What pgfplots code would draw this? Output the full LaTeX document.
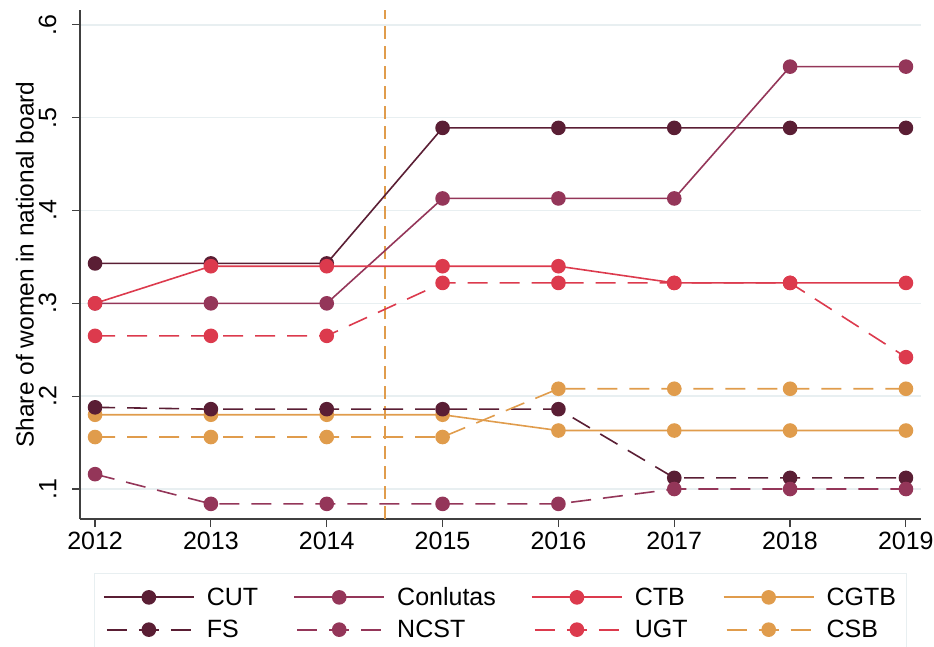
\documentclass[border=0pt]{standalone}
\usepackage{fontspec}
\setmainfont{Liberation Sans}
\usepackage{pgfplots}
\pgfplotsset{compat=1.18}
\definecolor{cCUT}{HTML}{5A1E34}
\definecolor{cCON}{HTML}{943659}
\definecolor{cCTB}{HTML}{DC3A4D}
\definecolor{cCGT}{HTML}{E09C4C}
\definecolor{cgrid}{HTML}{E8EFF1}
\begin{document}
\begin{tikzpicture}
\path[use as bounding box] (-80pt,-127pt) rectangle (854pt,519pt);
\begin{axis}[
  scale only axis, width=841pt, height=509pt,
  xmin=2011.87, xmax=2019.13, ymin=0.0677, ymax=0.616,
  axis x line*=bottom, axis y line*=left,
  axis line style={line width=1.2pt, black!75},
  xtick={2012,...,2019},
  xticklabels={2012,2013,2014,2015,2016,2017,2018,2019},
  ytick={0.1,0.2,0.3,0.4,0.5,0.6},
  yticklabels={.1,.2,.3,.4,.5,.6},
  tick style={line width=1.2pt, black!75},
  tick align=outside, major tick length=8pt,
  ymajorgrids, grid style={line width=1.5pt, cgrid},
  tick label style={font=\fontsize{25}{30}\selectfont},
  yticklabel style={rotate=90, anchor=south, yshift=12pt},
  xticklabel style={yshift=-2pt},
  ylabel={Share of women in national board},
  ylabel style={font=\fontsize{24.5}{29}\selectfont, yshift=-2pt},
  legend columns=4,
  legend style={at={(0.5,-0.106)}, anchor=north, draw=cgrid, line width=1.2pt,
    font=\fontsize{25}{30}\selectfont, inner xsep=8pt, inner ysep=12pt,
    /tikz/every even column/.append style={column sep=33pt},
    /tikz/every odd column/.append style={column sep=10pt},
    row sep=9pt},
  legend cell align=left,
  legend image code/.code={%
    \draw[#1, mark=none, line width=2pt, dash phase=29pt] (0pt,0pt) -- (90pt,0pt);
    \draw[#1, solid] plot coordinates {(45pt,0pt)};},
  every axis plot/.append style={line width=1.6pt, mark=*, mark size=6.5pt, mark options={solid}},
]
\draw[cCGT, line width=2pt, dash pattern=on 13pt off 7pt] (axis cs:2014.5,0.0677) -- (axis cs:2014.5,0.616);
\addplot[cCUT] coordinates {(2012,.343)(2013,.343)(2014,.343)(2015,.489)(2016,.489)(2017,.489)(2018,.489)(2019,.489)};
\addlegendentry{CUT}
\addplot[cCON] coordinates {(2012,.300)(2013,.300)(2014,.300)(2015,.413)(2016,.413)(2017,.413)(2018,.555)(2019,.555)};
\addlegendentry{Conlutas}
\addplot[cCTB] coordinates {(2012,.300)(2013,.340)(2014,.340)(2015,.340)(2016,.340)(2017,.322)(2018,.322)(2019,.322)};
\addlegendentry{CTB}
\addplot[cCGT] coordinates {(2012,.180)(2013,.180)(2014,.180)(2015,.180)(2016,.163)(2017,.163)(2018,.163)(2019,.163)};
\addlegendentry{CGTB}
\addplot[cCUT, dash pattern=on 20pt off 12pt] coordinates {(2012,.188)(2013,.186)(2014,.186)(2015,.186)(2016,.186)(2017,.112)(2018,.112)(2019,.112)};
\addlegendentry{FS}
\addplot[cCON, dash pattern=on 20pt off 12pt] coordinates {(2012,.116)(2013,.084)(2014,.084)(2015,.084)(2016,.084)(2017,.100)(2018,.100)(2019,.100)};
\addlegendentry{NCST}
\addplot[cCTB, dash pattern=on 20pt off 12pt] coordinates {(2012,.265)(2013,.265)(2014,.265)(2015,.322)(2016,.322)(2017,.322)(2018,.322)(2019,.242)};
\addlegendentry{UGT}
\addplot[cCGT, dash pattern=on 20pt off 12pt] coordinates {(2012,.156)(2013,.156)(2014,.156)(2015,.156)(2016,.208)(2017,.208)(2018,.208)(2019,.208)};
\addlegendentry{CSB}
\end{axis}
\end{tikzpicture}
\end{document}
